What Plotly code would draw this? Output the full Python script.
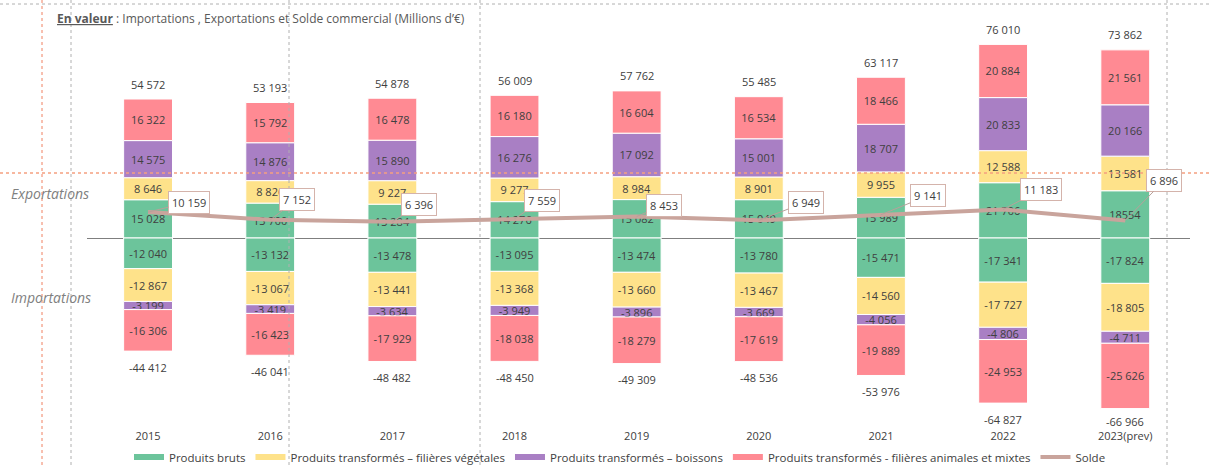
import plotly.graph_objects as go

years = ["2015", "2016", "2017", "2018", "2019", "2020", "2021", "2022", "2023(prev)"]

series_names = [
    "Produits bruts",
    "Produits transformés – filières végétales",
    "Produits transformés – boissons",
    "Produits transformés - filières animales et mixtes",
]

exp_bruts = [15028, 13700, 13284, 14276, 15082, 15049, 15989, 21706, 18554]
exp_vegetales = [8646, 8826, 9227, 9277, 8984, 8901, 9955, 12588, 13581]
exp_boissons = [14575, 14876, 15890, 16276, 17092, 15001, 18707, 20833, 20166]
exp_animales = [16322, 15792, 16478, 16180, 16604, 16534, 18466, 20884, 21561]
exp_total = [54572, 53193, 54878, 56009, 57762, 55485, 63117, 76010, 73862]

imp_bruts = [-12040, -13132, -13478, -13095, -13474, -13780, -15471, -17341, -17824]
imp_vegetales = [-12867, -13067, -13441, -13368, -13660, -13467, -14560, -17727, -18805]
imp_boissons = [-3199, -3419, -3634, -3949, -3896, -3669, -4056, -4806, -4711]
imp_animales = [-16306, -16423, -17929, -18038, -18279, -17619, -19889, -24953, -25626]
imp_total = [-44412, -46041, -48482, -48450, -49309, -48536, -53976, -64827, -66966]

solde = [10159, 7152, 6396, 7559, 8453, 6949, 9141, 11183, 6896]

colors = ["#6cc49b", "#fee28a", "#a97fc4", "#ff8a93"]
solde_color = "#c9a49c"
text_color = "#404040"
FONT = "Open Sans"


def fmt(v):
    return f"{v:,}".replace(",", " ")


x = list(range(len(years)))

fig = go.Figure()

exp_series = [exp_bruts, exp_vegetales, exp_boissons, exp_animales]
imp_series = [imp_bruts, imp_vegetales, imp_boissons, imp_animales]

for k in range(4):
    ev = exp_series[k]
    etxt = [fmt(v) for v in ev]
    if k == 0:
        etxt[-1] = str(ev[-1])  # reference shows "18554" without separator
    fig.add_trace(go.Bar(
        x=x, y=ev, text=etxt, textposition="inside", insidetextanchor="middle",
        constraintext="none", textangle=0,
        textfont=dict(family=FONT, size=11, color=text_color),
        marker=dict(color=colors[k], line=dict(color="white", width=1)),
        width=0.4, showlegend=False, hoverinfo="skip", offsetgroup="a",
    ))
for k in range(4):
    iv = imp_series[k]
    fig.add_trace(go.Bar(
        x=x, y=iv, text=[fmt(v) for v in iv], textposition="inside", insidetextanchor="middle",
        constraintext="none", textangle=0,
        textfont=dict(family=FONT, size=11, color=text_color),
        marker=dict(color=colors[k], line=dict(color="white", width=1)),
        width=0.4, showlegend=False, hoverinfo="skip", offsetgroup="a",
    ))

fig.add_trace(go.Scatter(
    x=x, y=solde, mode="lines", line=dict(color=solde_color, width=4),
    showlegend=False, hoverinfo="skip",
))

# legend entries (wide thin swatches like the reference)
for k in range(4):
    fig.add_trace(go.Scatter(x=[None], y=[None], mode="lines", name=series_names[k],
                             line=dict(color=colors[k], width=6)))
fig.add_trace(go.Scatter(x=[None], y=[None], mode="lines", name="Solde",
                         line=dict(color=solde_color, width=4)))

annotations = []
for i in range(len(years)):
    annotations.append(dict(x=i, y=exp_total[i], text=fmt(exp_total[i]), showarrow=False,
                            yshift=15, font=dict(family=FONT, size=11, color=text_color)))
    annotations.append(dict(x=i, y=imp_total[i], text=fmt(imp_total[i]), showarrow=False,
                            yshift=-13 if i == len(years) - 1 else -16,
                            font=dict(family=FONT, size=11, color=text_color)))

# solde labels: offsets (px) of the boxes relative to the line points
solde_ax = [41, 27, 27, 27, 27, 47, 47, 38, 39]
solde_ay = [-10, -20, -17, -18, -11, -18, -19, -20, -40]
for i in range(len(years)):
    annotations.append(dict(
        x=i, y=solde[i], text=fmt(solde[i]), showarrow=True, arrowhead=0,
        arrowwidth=1, arrowcolor="#b8a09a", ax=solde_ax[i], ay=solde_ay[i],
        bgcolor="white", bordercolor="#d4b3ab", borderwidth=1, borderpad=3,
        font=dict(family=FONT, size=11, color=text_color),
    ))

# plot-area geometry in pixels (for paper coordinates of decorations)
L, R, T, B = 87, 20, 20, 38
W, H = 1210, 466
PW, PH = W - L - R, H - T - B


def px(xp):
    return (xp - L) / PW


def py(yp):
    return (H - B - yp) / PH


annotations.append(dict(
    xref="paper", yref="paper", x=px(55), y=py(18), xanchor="left", yanchor="middle",
    text="<b><u>En valeur</u></b> : Importations , Exportations et Solde commercial (Millions d’€)",
    showarrow=False, font=dict(family=FONT, size=12, color="#595959"),
))
annotations.append(dict(
    xref="paper", yref="paper", x=px(9), y=py(193), xanchor="left", yanchor="middle",
    text="<i>Exportations</i>", showarrow=False, font=dict(family=FONT, size=14, color="#808080"),
))
annotations.append(dict(
    xref="paper", yref="paper", x=px(9), y=py(297), xanchor="left", yanchor="middle",
    text="<i>Importations</i>", showarrow=False, font=dict(family=FONT, size=14, color="#808080"),
))

shapes = []
# editor guides visible in the reference
for xv in [71, 289, 480, 1167]:
    shapes.append(dict(type="line", xref="paper", yref="paper", x0=px(xv), x1=px(xv),
                       y0=py(0), y1=py(466), line=dict(color="#b0b0b0", width=1, dash="3px,3px")))
shapes.append(dict(type="line", xref="paper", yref="paper", x0=px(0), x1=px(1210),
                   y0=py(4), y1=py(4), line=dict(color="#b0b0b0", width=1, dash="3px,3px")))
shapes.append(dict(type="line", xref="paper", yref="paper", x0=px(42), x1=px(42),
                   y0=py(0), y1=py(466), line=dict(color="#f08060", width=1, dash="3px,3px")))
shapes.append(dict(type="line", xref="paper", yref="paper", x0=px(0), x1=px(1210),
                   y0=py(173), y1=py(173), line=dict(color="#f5a080", width=1.5, dash="3px,3px")))

fig.update_layout(
    width=W, height=H, barmode="relative",
    margin=dict(l=L, r=R, t=T, b=B, pad=0, autoexpand=False),
    paper_bgcolor="white", plot_bgcolor="white",
    font=dict(family=FONT, size=11, color=text_color),
    xaxis=dict(tickvals=x, ticktext=years, range=[-0.5, 8.53], showgrid=False,
               zeroline=False, showline=False, ticks="", automargin=False,
               tickfont=dict(family=FONT, size=11, color=text_color), fixedrange=True),
    yaxis=dict(range=[-74600, 85590], showgrid=False, showticklabels=False,
               zeroline=True, zerolinecolor="#7f7f7f", zerolinewidth=1, ticks="",
               automargin=False, fixedrange=True),
    legend=dict(orientation="h", xref="container", yref="container",
                x=620 / W, xanchor="center", y=(H - 457) / H, yanchor="middle",
                font=dict(family=FONT, size=11.5, color=text_color), bgcolor="rgba(0,0,0,0)"),
    annotations=annotations, shapes=shapes,
)

fig.write_html(
    "out.html",
    config={"displayModeBar": False},
    post_script="document.body.style.margin='0px';document.body.style.overflow='hidden';",
)
